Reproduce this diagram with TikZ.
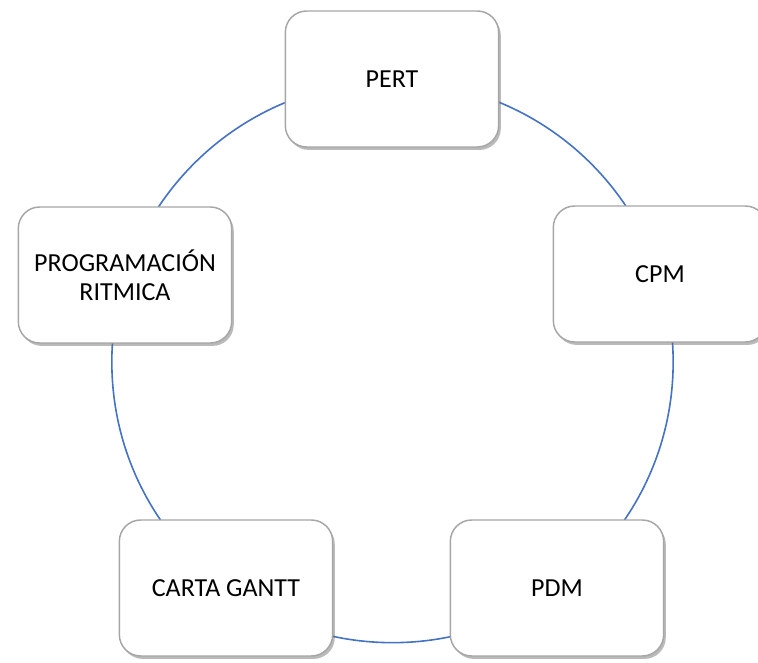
\documentclass[tikz,border=0pt]{standalone}
\usepackage{fontspec}
\setmainfont{Carlito}
\usetikzlibrary{shadows}
\definecolor{ringblue}{HTML}{4472C4}
\definecolor{boxedge}{HTML}{A6A6A6}
\begin{document}
\begin{tikzpicture}[x=0.75pt,y=-0.75pt,
  stagebox/.style={draw=boxedge, line width=1.1pt, fill=white,
    rounded corners=16pt, minimum width=160pt, minimum height=102pt,
    inner sep=0pt, align=center,
    font=\fontsize{19.5}{21.5}\selectfont,
    drop shadow={shadow xshift=1.6pt, shadow yshift=-2.2pt, opacity=0.45, fill=black!60}},
  ring/.style={draw=ringblue, line width=1.2pt}]
  \useasboundingbox (0,0) rectangle (758,663);
  % circle linking the five methods
  \coordinate (c) at (392.5,362);
  \draw[ring] (c) circle [radius=210.5pt];
  % method boxes
  \node[stagebox] (pert) at (392,79) {PERT};
  \node[stagebox] (cpm)  at (660,274) {CPM};
  \node[stagebox] (prog) at (125,275) {PROGRAMACIÓN\\RITMICA};
  \node[stagebox] (gantt) at (226,588) {CARTA GANTT};
  \node[stagebox] (pdm)  at (557,588) {PDM};
\end{tikzpicture}
\end{document}
